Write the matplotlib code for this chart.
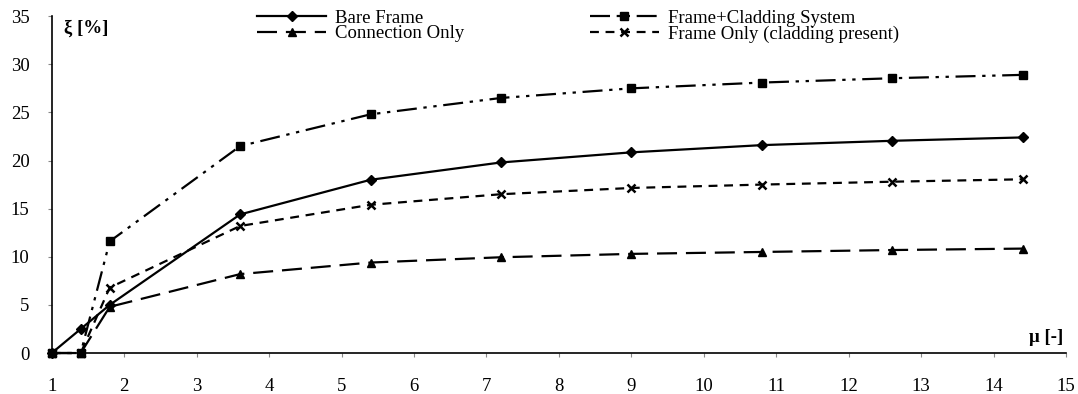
import numpy as np
import matplotlib
matplotlib.use('Agg')
from matplotlib import pyplot as plt

mu = [1, 1.4, 1.8, 3.6, 5.4, 7.2, 9, 10.8, 12.6, 14.4]
bare_frame = [0, 2.5, 5.0, 14.4, 18.0, 19.8, 20.85, 21.6, 22.05, 22.4]
frame_cladding = [0, 0, 11.6, 21.5, 24.8, 26.5, 27.5, 28.1, 28.55, 28.9]
connection_only = [0, 0, 4.8, 8.2, 9.4, 9.95, 10.3, 10.5, 10.7, 10.85]
frame_only = [0, 0, 6.8, 13.2, 15.4, 16.5, 17.15, 17.5, 17.8, 18.05]

plt.rcParams['font.family'] = ['Liberation Serif', 'DejaVu Serif']

fig = plt.figure(figsize=(10.78, 3.94), dpi=100)
ax = fig.add_axes([0.048, 0.104, 0.941, 0.855])

ax.plot(mu, bare_frame, color='black', lw=1.6, marker='D', ms=5,
        clip_on=False, label='Bare Frame')
ax.plot(mu, connection_only, color='black', lw=1.6, marker='^', ms=6,
        dashes=(9, 4), clip_on=False, label='Connection Only')
ax.plot(mu, frame_cladding, color='black', lw=1.6, marker='s', ms=5.5,
        dashes=(9, 3, 1.5, 3, 1.5, 3), clip_on=False, label='Frame+Cladding System')
ax.plot(mu, frame_only, color='black', lw=1.6, marker='x', ms=6, mew=1.8,
        dashes=(4, 3), clip_on=False, label='Frame Only (cladding present)')

ax.set_xlim(1, 15)
ax.set_ylim(0, 35)
ax.set_xticks(range(1, 16))
ax.set_yticks(range(0, 36, 5))
ax.tick_params(labelsize=13.5, color='#888888', length=3)
ax.tick_params(axis='x', pad=15)
ax.tick_params(axis='y', pad=13)
for s in ['top', 'right']:
    ax.spines[s].set_visible(False)
for s in ['left', 'bottom']:
    ax.spines[s].set_linewidth(1.2)

ax.text(0.012, 0.99, 'ξ [%]', transform=ax.transAxes, fontsize=13.5,
        fontweight='bold', va='top', ha='left')
ax.text(0.997, 0.045, 'μ [-]', transform=ax.transAxes, fontsize=13.5,
        fontweight='bold', va='center', ha='right')

fig.legend(loc='upper left', bbox_to_anchor=(0.2385, 0.976), ncol=2, frameon=False,
           fontsize=13.5, handlelength=3.7, columnspacing=6.7, labelspacing=-0.07,
           handletextpad=0.45, borderpad=0, borderaxespad=0)

fig.savefig('out.png', dpi=100)
